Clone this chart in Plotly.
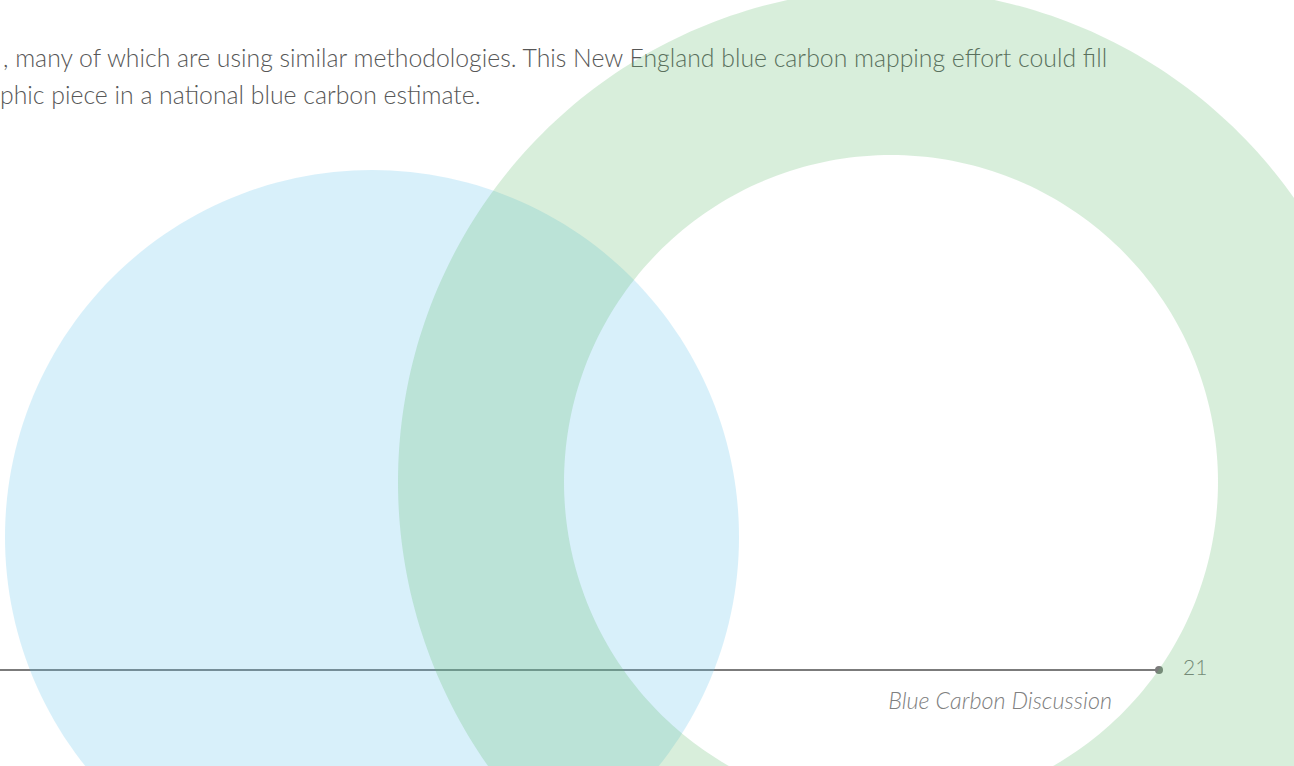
import numpy as np
import plotly.graph_objects as go

W, H = 1294, 766

# Text content
body_lines = [
    ", many of which are using similar methodologies. This New England blue carbon mapping effort could fill",
    "phic piece in a national blue carbon estimate.",
]
body_x = [3, 0]
body_y = [61, 98]
page_number = "21"
footer_title = "Blue Carbon Discussion"

# Decorative circle parameters (cx, cy, r)
blue_circle = (372, 537, 367)
green_outer = (891, 482, 493)
green_inner = (891, 482, 327)

# Footer rule
rule_x = [0, 1159]
rule_y = [670, 670]


def circle_pts(cx, cy, r, n=240):
    t = np.linspace(0, 2 * np.pi, n, endpoint=False)
    return cx + r * np.cos(t), cy + r * np.sin(t)


def path_from(xs, ys):
    return "M " + " L ".join(f"{x:.2f},{y:.2f}" for x, y in zip(xs, ys)) + " Z"


fig = go.Figure()

# footer rule with end dot
fig.add_trace(go.Scatter(x=rule_x, y=rule_y, mode="lines",
                         line=dict(color="#7b7b7b", width=2), hoverinfo="skip", showlegend=False))
fig.add_trace(go.Scatter(x=[rule_x[1]], y=[rule_y[1]], mode="markers",
                         marker=dict(color="#7b7b7b", size=8), hoverinfo="skip", showlegend=False))

# body text
fig.add_trace(go.Scatter(x=body_x, y=body_y, mode="text", text=body_lines,
                         textposition="middle right",
                         textfont=dict(family="Lato", size=24.8, color="#575757", weight=300),
                         hoverinfo="skip", showlegend=False, cliponaxis=False))

# page number
fig.add_trace(go.Scatter(x=[1183], y=[670], mode="text", text=[page_number],
                         textposition="middle right",
                         textfont=dict(family="Lato", size=21, color="#7a7a7a", weight=300),
                         hoverinfo="skip", showlegend=False))
# footer title
fig.add_trace(go.Scatter(x=[1112], y=[703], mode="text", text=[f"<i>{footer_title}</i>"],
                         textposition="middle left",
                         textfont=dict(family="Lato", size=23.4, color="#808080", weight=300),
                         hoverinfo="skip", showlegend=False))

bx, by = circle_pts(*blue_circle)
gox, goy = circle_pts(*green_outer, n=360)
gix, giy = circle_pts(*green_inner, n=300)

shapes = [
    dict(type="path", path=path_from(bx, by), xref="x", yref="y",
         fillcolor="rgba(99,195,235,0.25)", line=dict(width=0), layer="above"),
    dict(type="path", path=path_from(gox, goy) + " " + path_from(gix[::-1], giy[::-1]),
         xref="x", yref="y", fillcolor="rgba(99,187,111,0.25)", line=dict(width=0),
         layer="above", fillrule="evenodd"),
]

fig.update_layout(
    width=W, height=H,
    margin=dict(l=0, r=0, t=0, b=0),
    paper_bgcolor="white", plot_bgcolor="white",
    xaxis=dict(range=[0, W], visible=False, fixedrange=True),
    yaxis=dict(range=[H, 0], visible=False, fixedrange=True),
    shapes=shapes,
    showlegend=False,
)

fig.write_html("out.html", config={"displayModeBar": False},
               post_script="document.body.style.margin='0';document.body.style.overflow='hidden';")
